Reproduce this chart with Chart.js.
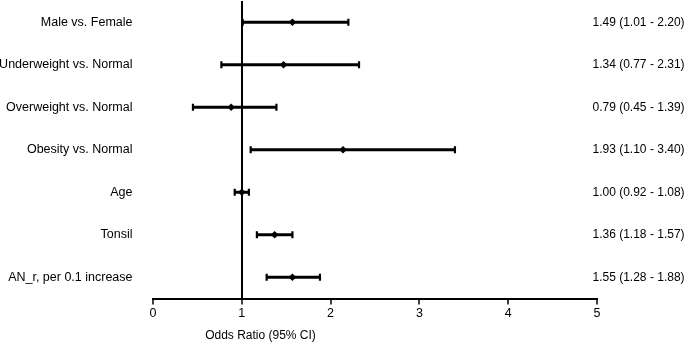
<!DOCTYPE html>
<html>
<head>
<meta charset="utf-8">
<script src="https://cdn.jsdelivr.net/npm/chart.js@4/dist/chart.umd.min.js"></script>
<style>
  html, body { margin: 0; padding: 0; background: #fff; }
  #wrap { width: 685px; height: 342px; position: relative; }
</style>
</head>
<body>
<div id="wrap"><canvas id="c" width="685" height="342"></canvas></div>
<script>
const categories = ['Male vs. Female', 'Underweight vs. Normal', 'Overweight vs. Normal', 'Obesity vs. Normal', 'Age', 'Tonsil', 'AN_r, per 0.1 increase'];
const pointEst = [1.57, 1.47, 0.88, 2.14, 1.00, 1.37, 1.57];
const ciLow = [1.01, 0.77, 0.45, 1.10, 0.92, 1.17, 1.28];
const ciHigh = [2.20, 2.32, 1.39, 3.40, 1.08, 1.57, 1.88];
const ciLabels = ['1.49 (1.01 - 2.20)', '1.34 (0.77 - 2.31)', '0.79 (0.45 - 1.39)', '1.93 (1.10 - 3.40)', '1.00 (0.92 - 1.08)', '1.36 (1.18 - 1.57)', '1.55 (1.28 - 1.88)'];
const xMin = 0, xMax = 5, xStep = 1;
const refValue = 1;
const axisTitle = 'Odds Ratio (95% CI)';

const FONT = 'Liberation Sans, Arial, sans-serif';

const ciBars = categories.map((c, i) => [ciLow[i], ciHigh[i]]);
const caps = [];
categories.forEach((c, i) => { caps.push({ x: ciLow[i], y: c }); caps.push({ x: ciHigh[i], y: c }); });
const points = categories.map((c, i) => ({ x: pointEst[i], y: c }));

const textPlugin = {
  id: 'textPlugin',
  afterDraw(chart) {
    const ctx = chart.ctx;
    const ys = chart.scales.y;
    ctx.save();
    ctx.fillStyle = '#000';
    ctx.font = '12px ' + FONT;
    ctx.textAlign = 'left';
    ctx.textBaseline = 'middle';
    ciLabels.forEach((t, i) => {
      ctx.fillText(t, 592.5, ys.getPixelForValue(i));
    });
    ctx.textAlign = 'center';
    ctx.fillText(axisTitle, 260.5, 336);
    ctx.restore();
  }
};

new Chart(document.getElementById('c'), {
  type: 'bar',
  data: {
    labels: categories,
    datasets: [
      {
        type: 'bar',
        data: ciBars,
        backgroundColor: '#000',
        borderWidth: 0,
        barThickness: 2.5,
        order: 3
      },
      {
        type: 'line',
        data: caps,
        showLine: false,
        pointStyle: 'line',
        rotation: 90,
        pointRadius: 3.5,
        borderColor: '#000',
        pointBorderColor: '#000',
        pointBorderWidth: 2.2,
        order: 2
      },
      {
        type: 'line',
        data: points,
        showLine: false,
        pointStyle: 'rectRot',
        pointRadius: 3.8,
        pointBackgroundColor: '#000',
        pointBorderColor: '#000',
        pointBorderWidth: 0,
        order: 1
      }
    ]
  },
  options: {
    indexAxis: 'y',
    responsive: false,
    animation: false,
    devicePixelRatio: 1,
    layout: { autoPadding: false, padding: { top: 1, right: 88, bottom: 0, left: 0 } },
    plugins: { legend: { display: false }, tooltip: { enabled: false } },
    scales: {
      x: {
        type: 'linear',
        min: xMin,
        max: xMax,
        afterFit(s) { s.height = 43.5; s.paddingLeft = 0; s.paddingRight = 0; },
        ticks: {
          stepSize: xStep,
          color: '#000',
          font: { family: FONT, size: 12.5 },
          padding: 2,
          maxRotation: 0
        },
        grid: {
          display: true,
          drawOnChartArea: true,
          drawTicks: true,
          tickLength: 6,
          tickColor: '#000',
          tickWidth: 1.5,
          color: (ctx) => (ctx.tick && ctx.tick.value === refValue) ? '#000' : 'rgba(0,0,0,0)',
          lineWidth: 2
        },
        border: { display: true, color: '#000', width: 2 }
      },
      y: {
        type: 'category',
        offset: true,
        afterFit(s) { s.width = 153; s.paddingTop = 0; s.paddingBottom = 0; },
        ticks: {
          color: '#000',
          font: { family: FONT, size: 12.5 },
          padding: 20.5,
          autoSkip: false
        },
        grid: { display: false, drawTicks: false },
        border: { display: false }
      }
    }
  },
  plugins: [textPlugin]
});
</script>
</body>
</html>
